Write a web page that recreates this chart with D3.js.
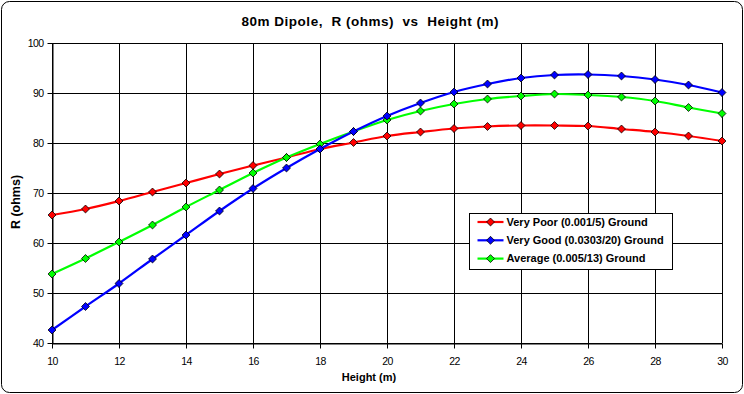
<!DOCTYPE html>
<html>
<head>
<meta charset="utf-8">
<script src="https://cdn.jsdelivr.net/npm/d3@7"></script>
<style>
  body { margin: 0; background: #fff; }
  svg { display: block; font-family: Arial, "Liberation Sans", sans-serif; }
</style>
</head>
<body>
<div id="chart"></div>
<script>
//////////////////////////// data /////////////////////////////////////////

const heights = d3.range(10, 31); // 10 .. 30 m
const veryPoor = [65.6, 66.8, 68.4, 70.2, 72.0, 73.8, 75.5, 77.1, 78.8, 80.1, 81.4,
  82.2, 82.9, 83.3, 83.5, 83.5, 83.4, 82.8, 82.2, 81.4, 80.4];
const veryGood = [42.6, 47.3, 51.9, 56.8, 61.6, 66.4, 70.9, 75.0, 78.8, 82.3, 85.4,
  88.0, 90.2, 91.8, 93.0, 93.6, 93.7, 93.4, 92.7, 91.6, 90.1];
const average = [53.8, 56.9, 60.2, 63.6, 67.2, 70.6, 74.0, 77.1, 79.8, 82.3, 84.6,
  86.4, 87.8, 88.8, 89.4, 89.8, 89.6, 89.2, 88.4, 87.1, 85.9];
const seriesNames = ["Very Poor (0.001/5) Ground", "Very Good (0.0303/20) Ground", "Average (0.005/13) Ground"];
const seriesColors = ["#ff0000", "#0000ff", "#00ff00"];
const xTicks = d3.range(10, 31, 2);
const yTicks = d3.range(40, 101, 10);

//////////////////////////// sizes ///////////////////////////////////////

const width = 744, height = 394;
const plot = { left: 52, right: 722, top: 43, bottom: 343 };

const svg = d3.select("#chart").append("svg")
  .attr("width", width).attr("height", height);

// outer chart border
svg.append("rect")
  .attr("x", 1.5).attr("y", 1.5)
  .attr("width", width - 3).attr("height", height - 3)
  .attr("rx", 8)
  .attr("fill", "#fff").attr("stroke", "#000").attr("stroke-width", 1);

//////////////////////////// scales ///////////////////////////////////////

const x = d3.scaleLinear().domain([10, 30]).range([plot.left, plot.right]);
const y = d3.scaleLinear().domain([40, 100]).range([plot.bottom, plot.top]);

//////////////////////////// grid /////////////////////////////////////////

const grid = svg.append("g").attr("shape-rendering", "crispEdges");
grid.selectAll(".vg").data(xTicks).join("line")
  .attr("x1", d => Math.round(x(d)) + 0.5).attr("x2", d => Math.round(x(d)) + 0.5)
  .attr("y1", plot.top).attr("y2", plot.bottom)
  .attr("stroke", "#000");
grid.selectAll(".hg").data(yTicks).join("line")
  .attr("x1", plot.left).attr("x2", plot.right)
  .attr("y1", d => Math.round(y(d)) + 0.5).attr("y2", d => Math.round(y(d)) + 0.5)
  .attr("stroke", "#000");

//////////////////////////// axes /////////////////////////////////////////

const xAxis = svg.append("g")
  .attr("transform", `translate(0,${plot.bottom + 0.5})`)
  .call(d3.axisBottom(x).tickValues(xTicks).tickSize(5).tickPadding(9).tickSizeOuter(0));
const yAxis = svg.append("g")
  .attr("transform", `translate(${plot.left + 0.5},0)`)
  .call(d3.axisLeft(y).tickValues(yTicks).tickSize(5).tickPadding(4).tickSizeOuter(0));

[xAxis, yAxis].forEach(a => {
  a.select(".domain").attr("stroke", "#000");
  a.selectAll(".tick line").attr("stroke", "#000");
  a.selectAll("text").attr("fill", "#000")
    .style("font-size", "10.5px").style("letter-spacing", "-0.6px")
    .style("font-family", "Arial, 'Liberation Sans', sans-serif");
});

//////////////////////////// titles ///////////////////////////////////////

svg.append("text")
  .attr("x", 370).attr("y", 26)
  .attr("text-anchor", "middle")
  .attr("textLength", 257).attr("lengthAdjust", "spacing")
  .style("font-size", "13.5px").style("font-weight", "bold")
  .style("white-space", "pre")
  .text("80m Dipole,  R (ohms)  vs  Height (m)");

svg.append("text")
  .attr("x", 369).attr("y", 381)
  .attr("text-anchor", "middle")
  .style("font-size", "11px").style("font-weight", "bold")
  .text("Height (m)");

svg.append("text")
  .attr("transform", `translate(20,202) rotate(-90)`)
  .attr("text-anchor", "middle")
  .style("font-size", "12.5px").style("font-weight", "bold")
  .text("R (ohms)");

//////////////////////////// lines ////////////////////////////////////////

const allSeries = [veryPoor, veryGood, average].map((vals, i) => ({
  name: seriesNames[i],
  color: seriesColors[i],
  points: vals.map((v, j) => ({ h: heights[j], r: v }))
}));

const line = d3.line()
  .x(d => x(d.h)).y(d => y(d.r))
  .curve(d3.curveCatmullRom.alpha(0.5));

const diamond = d3.symbol().type(d3.symbolDiamond2).size(40);

// draw order: red, green, blue on top
const drawOrder = [allSeries[0], allSeries[2], allSeries[1]];
drawOrder.forEach(s => {
  svg.append("path")
    .datum(s.points)
    .attr("d", line)
    .attr("fill", "none")
    .attr("stroke", s.color)
    .attr("stroke-width", 2.2);
  svg.selectAll(null).data(s.points).join("path")
    .attr("transform", d => `translate(${x(d.h)},${y(d.r)})`)
    .attr("d", diamond)
    .attr("fill", s.color)
    .attr("stroke", "#000")
    .attr("stroke-width", 0.8);
});

//////////////////////////// legend ///////////////////////////////////////

const legend = svg.append("g").attr("transform", "translate(469.5,213.5)");
legend.append("rect")
  .attr("width", 203).attr("height", 56)
  .attr("fill", "#fff").attr("stroke", "#000");

const rows = legend.selectAll(".row").data(allSeries).join("g")
  .attr("transform", (d, i) => `translate(0,${8.5 + i * 18.3})`);
rows.append("line")
  .attr("x1", 8).attr("x2", 34)
  .attr("stroke", d => d.color).attr("stroke-width", 2.2);
rows.append("path")
  .attr("transform", "translate(21,0)")
  .attr("d", diamond)
  .attr("fill", d => d.color)
  .attr("stroke", "#000").attr("stroke-width", 0.8);
rows.append("text")
  .attr("x", 37).attr("dy", "0.35em")
  .style("font-size", "11px").style("font-weight", "bold")
  .text(d => d.name);
</script>
</body>
</html>
